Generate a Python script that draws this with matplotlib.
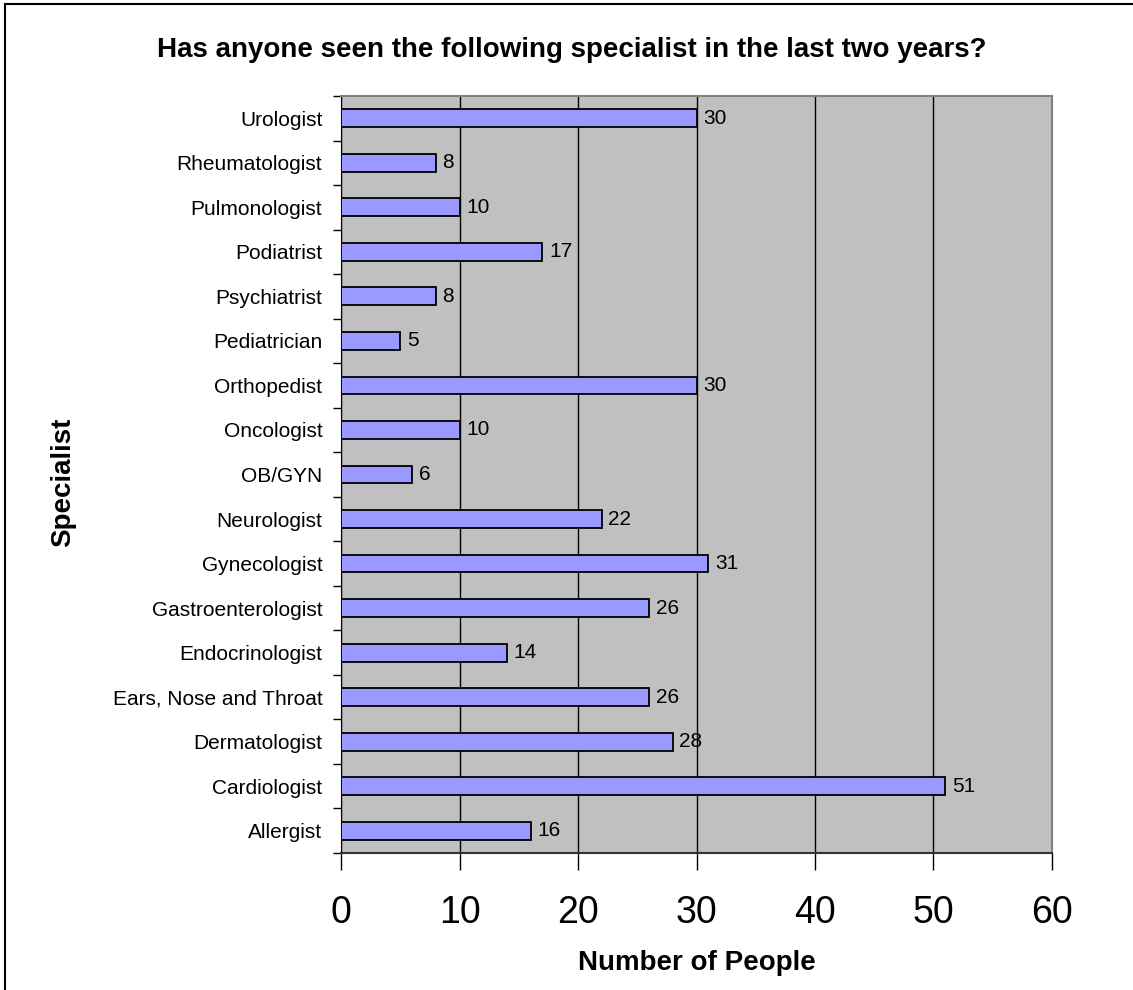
import matplotlib.pyplot as plt
from matplotlib.lines import Line2D

plt.rcParams['font.family'] = ['Liberation Sans', 'DejaVu Sans']

# data, bottom to top as drawn
specialists = ["Allergist", "Cardiologist", "Dermatologist", "Ears, Nose and Throat",
               "Endocrinologist", "Gastroenterologist", "Gynecologist", "Neurologist",
               "OB/GYN", "Oncologist", "Orthopedist", "Pediatrician", "Psychiatrist",
               "Podiatrist", "Pulmonologist", "Rheumatologist", "Urologist"]
counts = [16, 51, 28, 26, 14, 26, 31, 22, 6, 10, 30, 5, 8, 17, 10, 8, 30]
x_ticks = [0, 10, 20, 30, 40, 50, 60]

fig = plt.figure(figsize=(11.33, 9.9), dpi=100)
ax = fig.add_axes([0.301, 0.1384, 0.6275, 0.7646])
ax.set_facecolor("#C0C0C0")

pos = list(range(len(specialists)))
bars = ax.barh(pos, counts, height=0.4, color="#9999FF", edgecolor="black", linewidth=1.3, zorder=3)
for b, v in zip(bars, counts):
    ax.text(b.get_width() + 0.55, b.get_y() + b.get_height() / 2, str(v),
            va="center", ha="left", fontsize=15, zorder=4)

ax.set_xlim(0, 60)
ax.set_ylim(-0.5, len(specialists) - 0.5)
ax.set_xticks(x_ticks)
ax.set_xticklabels([str(t) for t in x_ticks], fontsize=27)
ax.tick_params(axis="x", direction="out", length=12, width=1, pad=18)
ax.xaxis.grid(True, color="black", linewidth=1, zorder=1)
ax.set_axisbelow(True)

ax.set_yticks(pos)
ax.set_yticklabels(specialists, fontsize=15)
ax.tick_params(axis="y", length=0, pad=13.5)
# tick marks between categories
ax.set_yticks([p - 0.5 for p in pos] + [len(pos) - 0.5], minor=True)
ax.tick_params(axis="y", which="minor", direction="out", length=6, width=1)

for s in ["top", "right"]:
    ax.spines[s].set_color("#808080")
    ax.spines[s].set_linewidth(1.5)
ax.spines["left"].set_color("black")
ax.spines["bottom"].set_color("#333333")
ax.spines["bottom"].set_linewidth(1.5)

ax.set_xlabel("Number of People", fontsize=20, fontweight="bold", labelpad=14)
ax.set_ylabel("Specialist", fontsize=20, fontweight="bold", va="center")
ax.yaxis.set_label_coords(-0.391, 0.49)
fig.text(0.505, 0.9495, "Has anyone seen the following specialist in the last two years?",
         ha="center", va="center", fontsize=20, fontweight="bold")

# chart frame (top and left edges visible)
fig.add_artist(Line2D([0.004, 1.0], [0.996, 0.996], color="black", linewidth=1.5, transform=fig.transFigure))
fig.add_artist(Line2D([0.004, 0.004], [0.0, 0.996], color="black", linewidth=1.5, transform=fig.transFigure))

plt.savefig("out.png", dpi=100)
